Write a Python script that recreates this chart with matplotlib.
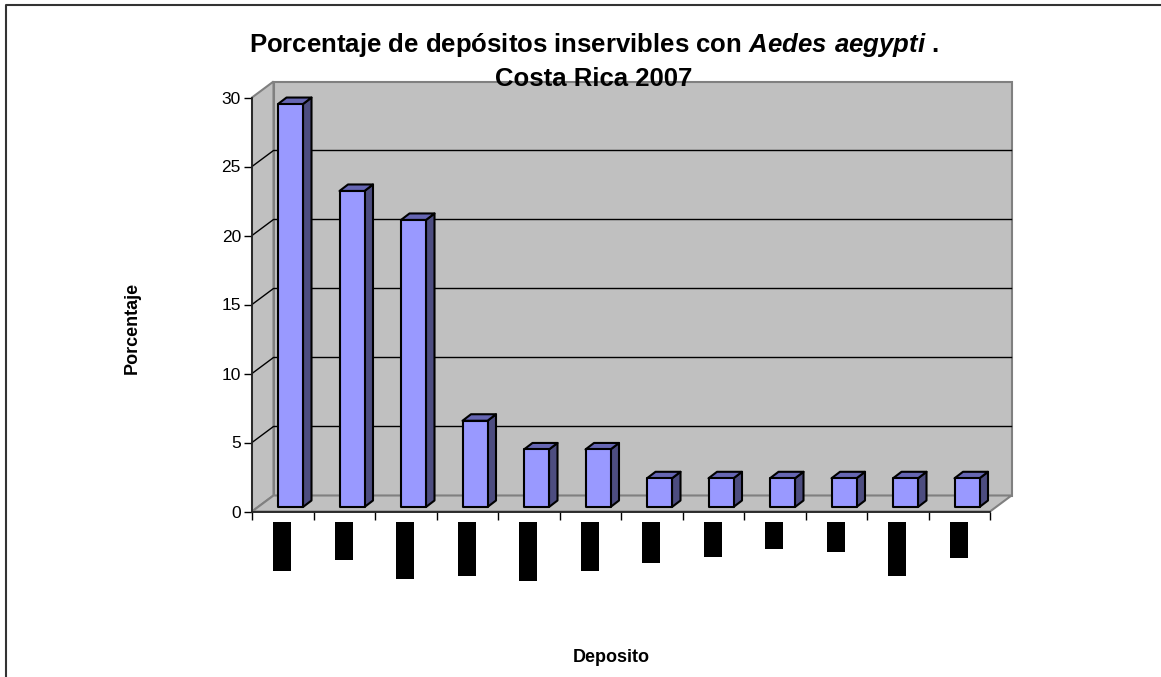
"""
plot.py — Porcentaje de depositos inservibles con Aedes aegypti (3D-look column chart)
"""

import matplotlib
matplotlib.use("Agg")
import matplotlib.pyplot as plt
from matplotlib.patches import Polygon, Rectangle

# ── Data ───────────────────────────────────────────────────────────────────────

porcentaje = [29.2, 22.9, 20.8, 6.25, 4.17, 4.17, 2.08, 2.08, 2.08, 2.08, 2.08, 2.08]
# the category labels are blacked out in the source, only their length is visible (px)
label_len = [49, 38, 57, 54, 59, 49, 41, 35, 27, 30, 54, 36]
y_ticks = [0, 5, 10, 15, 20, 25, 30]

W, H = 1161, 677
X0, X1, Y0, Y1 = 252, 990, 511.5, 97.5   # front plane in pixels

plt.rcParams["font.family"] = ["Liberation Sans", "DejaVu Sans"]
plt.rcParams["mathtext.fontset"] = "custom"
plt.rcParams["mathtext.bfit"] = "Liberation Sans:italic:bold"

fig = plt.figure(figsize=(W / 100, H / 100), dpi=100, facecolor="white")
ax = fig.add_axes([X0 / W, 1 - Y0 / H, (X1 - X0) / W, (Y0 - Y1) / H])
ax.set_xlim(0, len(porcentaje))
ax.set_ylim(0, 30)
ax.patch.set_alpha(0)

ux = (X1 - X0) / len(porcentaje)   # px per category
uy = (Y0 - Y1) / 30                # px per percent
dx, dy = 21.5 / ux, 16 / uy        # wall depth in data units

GRAY = "#c0c0c0"
EDGE = "#808080"

# ── Walls ──────────────────────────────────────────────────────────────────────

n = len(porcentaje)
wall = dict(facecolor=GRAY, edgecolor=EDGE, lw=1.5, clip_on=False, zorder=1)
ax.add_patch(Polygon([(dx, dy), (n + dx, dy), (n + dx, 30 + dy), (dx, 30 + dy)], **wall))
ax.add_patch(Polygon([(0, 0), (dx, dy), (dx, 30 + dy), (0, 30)], **wall))
ax.add_patch(Polygon([(0, 0), (n, 0), (n + dx, dy), (dx, dy)], **wall))

for t in y_ticks[1:-1]:
    ax.plot([0, dx, n + dx], [t, t + dy, t + dy], color="black", lw=1, clip_on=False, zorder=2)

# ── Bars ───────────────────────────────────────────────────────────────────────

bw = 25 / ux
bar_dx, bar_dy = 8.5 / ux, 6.5 / uy
x_off, y_off = 26 / ux, 4.5 / uy
edge = dict(edgecolor="black", lw=1.5, joinstyle="round", clip_on=False, zorder=3)

for i, val in enumerate(porcentaje):
    x = i + x_off
    y = y_off
    top = y + val
    ax.add_patch(Polygon([(x + bw, y), (x + bw + bar_dx, y + bar_dy),
                          (x + bw + bar_dx, top + bar_dy), (x + bw, top)],
                         facecolor="#4d4d80", **edge))
    ax.add_patch(Polygon([(x, top), (x + bw, top),
                          (x + bw + bar_dx, top + bar_dy), (x + bar_dx, top + bar_dy)],
                         facecolor="#6666b3", **edge))
    ax.add_patch(Rectangle((x, y), bw, val, facecolor="#9999ff", **edge))

    # blacked out category label
    ax.add_patch(Rectangle((i + 21 / ux, -10.5 / uy), 18 / ux, -label_len[i] / uy,
                           facecolor="black", edgecolor="none", clip_on=False, zorder=3))

# ── Axes ───────────────────────────────────────────────────────────────────────

for side in ("top", "right"):
    ax.spines[side].set_visible(False)
for side in ("left", "bottom"):
    ax.spines[side].set_color("#222222")
    ax.spines[side].set_linewidth(1.3)
    ax.spines[side].set_zorder(4)

ax.set_yticks(y_ticks)
ax.set_xticks(range(n + 1))
ax.set_xticklabels([])
ax.tick_params(axis="y", length=6, width=1, labelsize=12.5, pad=2)
ax.tick_params(axis="x", length=6, width=1)

# ── Text ───────────────────────────────────────────────────────────────────────

fig.text(593.5 / W, 1 - 52 / H, "Porcentaje de depósitos inservibles con $\\mathbfit{Aedes\\ aegypti}$ .",
         ha="center", va="baseline", fontsize=18.5, fontweight="bold", zorder=5)
fig.text(593.5 / W, 1 - 86 / H, "Costa Rica 2007",
         ha="center", va="baseline", fontsize=18.5, fontweight="bold", zorder=5)
fig.text(132 / W, 1 - 327.5 / H, "Porcentaje", rotation=90, ha="center", va="center",
         fontsize=13, fontweight="bold")
fig.text(611 / W, 1 - 657 / H, "Deposito", ha="center", va="center",
         fontsize=13, fontweight="bold")

# outer frame, open at the bottom and on the right
fig.add_artist(plt.Line2D([6 / W, 6 / W, 1],
                          [0, 1 - 5 / H, 1 - 5 / H], color="#333333", lw=1.5))

fig.savefig("out.png", dpi=100)
